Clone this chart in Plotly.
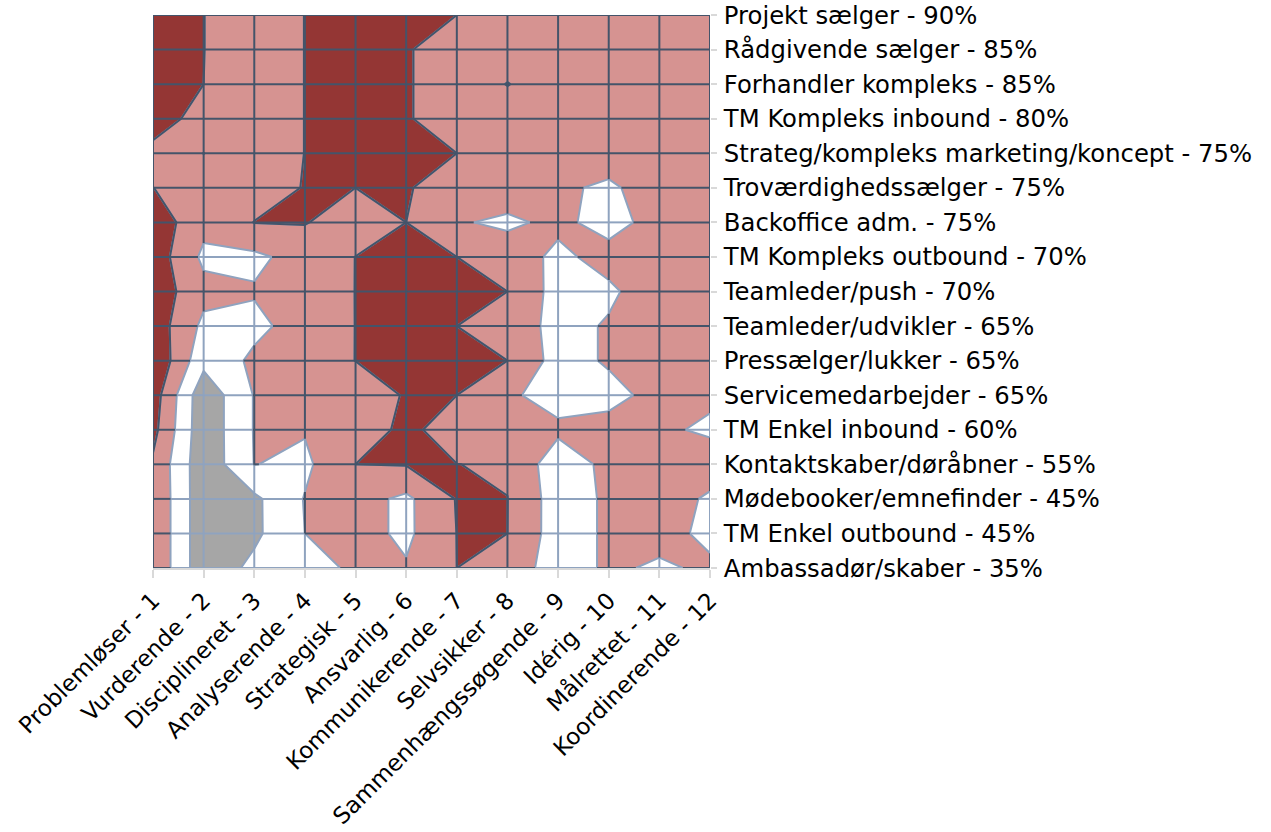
import numpy as np
import plotly.graph_objects as go

# ---- categories ----
traits = ["Problemløser - 1", "Vurderende - 2", "Disciplineret - 3", "Analyserende - 4",
          "Strategisk - 5", "Ansvarlig - 6", "Kommunikerende - 7", "Selvsikker - 8",
          "Sammenhængssøgende - 9", "Idérig - 10", "Målrettet - 11", "Koordinerende - 12"]

profiles = ["Projekt sælger - 90%", "Rådgivende sælger - 85%", "Forhandler kompleks - 85%",
            "TM Kompleks inbound - 80%", "Strateg/kompleks marketing/koncept - 75%",
            "Troværdighedssælger - 75%", "Backoffice adm. - 75%", "TM Kompleks outbound - 70%",
            "Teamleder/push - 70%", "Teamleder/udvikler - 65%", "Pressælger/lukker - 65%",
            "Servicemedarbejder - 65%", "TM Enkel inbound - 60%", "Kontaktskaber/døråbner - 55%",
            "Mødebooker/emnefinder - 45%", "TM Enkel outbound - 45%", "Ambassadør/skaber - 35%"]

# ---- surface values (one list per profile, one value per trait) ----
projekt_saelger      = [4.0, 3.01, 2.5, 3.01, 4.0, 4.0, 3.0, 2.5, 2.5, 2.5, 2.5, 2.5]
raadgivende_saelger  = [4.0, 3.01, 2.5, 3.01, 4.0, 3.1, 2.4, 2.5, 2.5, 2.5, 2.5, 2.5]
forhandler_kompleks  = [4.0, 3.0, 2.5, 3.01, 4.0, 3.1, 2.4, 3.03, 2.5, 2.5, 2.5, 2.5]
tm_kompleks_inbound  = [4.0, 2.2, 2.5, 3.01, 4.0, 3.1, 2.4, 2.5, 2.5, 2.5, 2.5, 2.5]
strateg_kompleks     = [2.4, 3.01, 2.5, 3.01, 4.0, 4.0, 3.0, 2.5, 2.5, 2.9, 2.5, 2.5]
trovaerdighed        = [3.01, 2.5, 2.5, 3.05, 3.0, 3.1, 2.4, 2.6, 2.3, 1.7, 2.9, 2.5]
backoffice           = [3.6, 2.3, 3.02, 3.05, 2.5, 3.0, 2.1, 1.8, 2.25, 1.6, 2.42, 2.5]
tm_kompleks_outbound = [3.6, 1.8, 1.8, 2.37, 3.01, 4.0, 3.0, 2.6, 1.75, 2.4, 2.5, 2.5]
teamleder_push       = [3.6, 2.3, 2.08, 2.5, 3.01, 4.0, 4.0, 3.0, 1.6, 1.8, 2.67, 2.5]
teamleder_udvikler   = [3.6, 1.78, 1.76, 2.41, 3.01, 4.0, 3.0, 2.74, 1.6, 2.11, 2.5, 2.5]
pressaelger          = [3.9, 1.3, 2.19, 2.5, 3.01, 4.0, 4.0, 3.0, 1.6, 2.11, 2.5, 2.5]
servicemedarbejder   = [3.5, 0.3, 2.05, 2.5, 2.3, 3.1, 3.0, 2.16, 1.6, 1.7, 2.31, 2.22]
tm_enkel_inbound     = [3.3, 0.3, 2.05, 2.07, 2.3, 3.3, 2.4, 2.5, 2.2, 2.35, 2.21, 1.8]
kontaktskaber        = [2.85, 0.3, 2.02, 1.8, 3.0, 3.05, 3.01, 2.9, 1.4, 2.26, 2.5, 2.7]
moedebooker          = [2.9, 0.3, 0.8, 2.05, 2.37, 1.8, 3.05, 3.01, 1.5, 2.15, 2.67, 1.8]
tm_enkel_outbound    = [2.9, 0.3, 0.8, 2.0, 2.37, 1.8, 3.01, 3.0, 1.5, 2.15, 2.3, 1.8]
ambassadoer          = [2.9, 0.3, 1.25, 1.7, 2.13, 2.09, 3.0, 2.6, 1.5, 2.15, 1.87, 2.15]

rows = [projekt_saelger, raadgivende_saelger, forhandler_kompleks, tm_kompleks_inbound,
        strateg_kompleks, trovaerdighed, backoffice, tm_kompleks_outbound, teamleder_push,
        teamleder_udvikler, pressaelger, servicemedarbejder, tm_enkel_inbound, kontaktskaber,
        moedebooker, tm_enkel_outbound, ambassadoer]
Z = np.array(rows, dtype=float)

# ---- style ----
GRAY = "#A6A6A6"
WHITE = "#FFFFFF"
PINK = "#D69391"
RED = "#943634"
DARK = "#44546A"
LIGHT = "#8FA3BF"
AXIS = "#D9D9D9"
FONT = "DejaVu Sans"

nx, ny = len(traits), len(profiles)
xs = list(range(nx))
ys = list(range(ny))

fig = go.Figure()

# filled bands (gray < 1 < white < 2 < pink < 3 < red)
fig.add_trace(go.Contour(
    z=Z, x=xs, y=ys,
    contours=dict(start=1, end=3, size=1, coloring="fill", showlines=True),
    colorscale=[[0, GRAY], [1 / 6, GRAY], [1 / 6, WHITE], [0.5, WHITE],
                [0.5, PINK], [5 / 6, PINK], [5 / 6, RED], [1, RED]],
    line=dict(color=LIGHT, width=2, smoothing=0),
    showscale=False, hoverinfo="skip"))

# dark border of the top band
fig.add_trace(go.Contour(
    z=Z, x=xs, y=ys,
    contours=dict(start=3, end=3, size=1, coloring="none"),
    line=dict(color=DARK, width=2, smoothing=0),
    showscale=False, hoverinfo="skip"))

# wireframe: dark over pink/red, light over white/gray
dark_x, dark_y, light_x, light_y = [], [], [], []


def add_edge(x0, y0, x1, y1, v0, v1, lvl=2.0):
    cuts = [0.0, 1.0]
    if (v0 - lvl) * (v1 - lvl) < 0:
        cuts = [0.0, (lvl - v0) / (v1 - v0), 1.0]
    for a, b in zip(cuts[:-1], cuts[1:]):
        vm = v0 + (v1 - v0) * (a + b) / 2
        xa, ya = x0 + (x1 - x0) * a, y0 + (y1 - y0) * a
        xb, yb = x0 + (x1 - x0) * b, y0 + (y1 - y0) * b
        if vm >= lvl:
            dark_x.extend([xa, xb, None]); dark_y.extend([ya, yb, None])
        else:
            light_x.extend([xa, xb, None]); light_y.extend([ya, yb, None])


for r in range(ny):
    for c in range(nx - 1):
        add_edge(c, r, c + 1, r, Z[r, c], Z[r, c + 1])
for c in range(nx):
    for r in range(ny - 1):
        add_edge(c, r, c, r + 1, Z[r, c], Z[r + 1, c])

fig.add_trace(go.Scatter(x=light_x, y=light_y, mode="lines",
                         line=dict(color=LIGHT, width=2), cliponaxis=False,
                         hoverinfo="skip", showlegend=False))
fig.add_trace(go.Scatter(x=dark_x, y=dark_y, mode="lines",
                         line=dict(color=DARK, width=2), cliponaxis=False,
                         hoverinfo="skip", showlegend=False))

fig.update_layout(
    template="none",
    width=1271, height=832,
    margin=dict(l=153, r=561, t=15, b=264, pad=0),
    paper_bgcolor="white", plot_bgcolor="white",
    showlegend=False,
    font=dict(family=FONT, size=24, color="#000000"),
    xaxis=dict(range=[0, nx - 1], tickmode="array", tickvals=xs, ticktext=traits,
               tickangle=-45, showgrid=False, zeroline=False, showline=True,
               linecolor=AXIS, linewidth=2, ticks="outside", ticklen=8, tickwidth=2,
               tickcolor=AXIS, automargin=False, tickfont=dict(family=FONT, size=23)),
    yaxis=dict(range=[ny - 1, 0], side="right", tickmode="array", tickvals=ys,
               ticktext=profiles, showgrid=False, zeroline=False, showline=False,
               ticks="outside", ticklen=6, tickwidth=2, tickcolor=AXIS,
               automargin=False, ticklabelstandoff=2,
               tickfont=dict(family=FONT, size=24.3)),
)

fig.write_html("out.html", config={"displayModeBar": False},
               post_script="document.body.style.margin='0';")
